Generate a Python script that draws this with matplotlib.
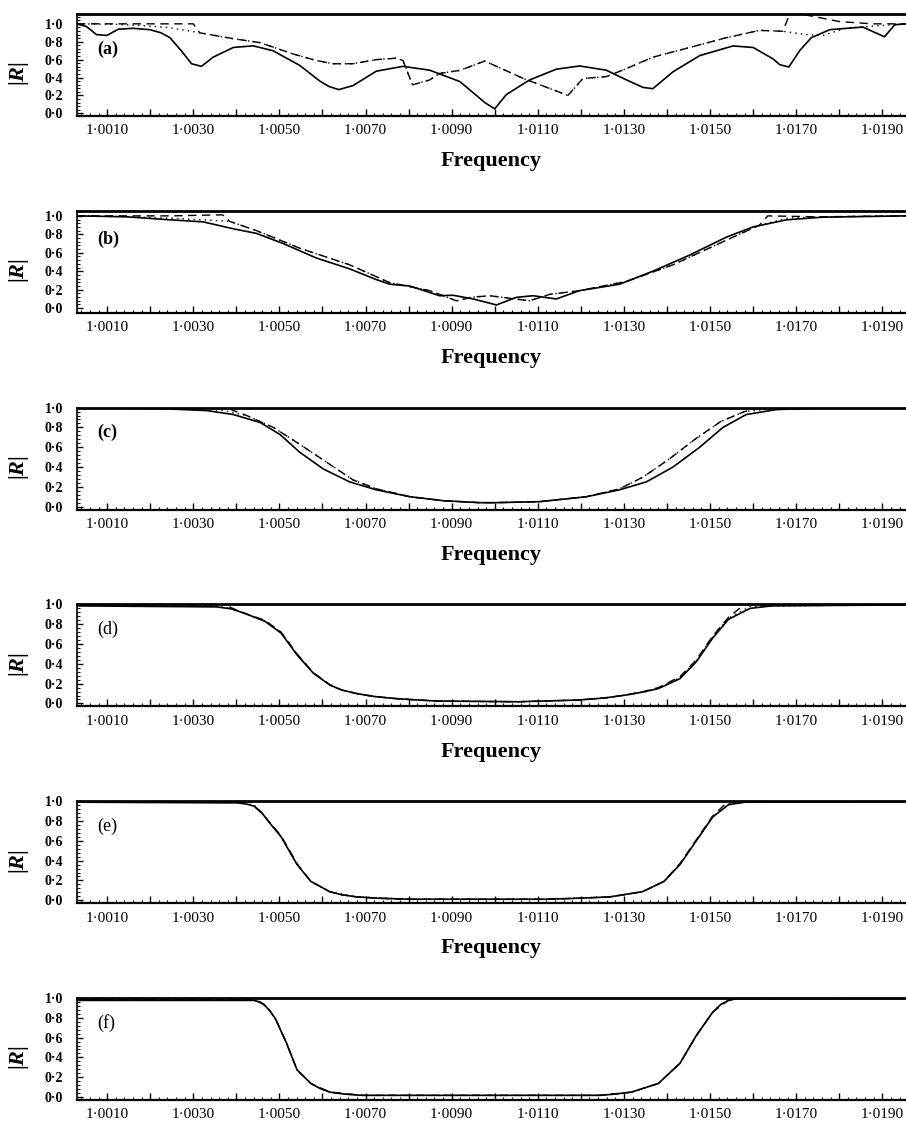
import matplotlib
matplotlib.use("Agg")
import matplotlib.pyplot as plt
from matplotlib.ticker import MultipleLocator, FuncFormatter

plt.rcParams['font.family'] = ['Liberation Serif', 'DejaVu Serif']
plt.rcParams['mathtext.fontset'] = 'custom'
plt.rcParams['mathtext.rm'] = 'Liberation Serif:bold'
plt.rcParams['mathtext.it'] = 'Liberation Serif:italic:bold'

# ---- panel (a) ----
a_solid_f = [1.0003, 1.00052, 1.00075, 1.00099, 1.00126, 1.00160, 1.00199, 1.00225, 1.00246, 1.00272,
             1.00296, 1.00319, 1.00346, 1.00393, 1.00439, 1.00485, 1.00547, 1.00594, 1.00615, 1.00638,
             1.00671, 1.00725, 1.00787, 1.00849, 1.00919, 1.00977, 1.0100, 1.01027, 1.01081, 1.01143,
             1.01197, 1.01259, 1.01306, 1.01344, 1.01367, 1.01414, 1.01476, 1.01553, 1.01600, 1.01646,
             1.01662, 1.01683, 1.01708, 1.01735, 1.01778, 1.01855, 1.01905, 1.01929, 1.01955]
a_solid_r = [1.0, 0.97, 0.88, 0.87, 0.94, 0.95, 0.935, 0.90, 0.845, 0.70,
             0.554, 0.525, 0.627, 0.736, 0.754, 0.70, 0.536, 0.36, 0.30, 0.265,
             0.31, 0.471, 0.525, 0.482, 0.355, 0.12, 0.05, 0.21, 0.373, 0.493,
             0.529, 0.482, 0.373, 0.29, 0.275, 0.464, 0.645, 0.753, 0.736, 0.609,
             0.543, 0.518, 0.70, 0.845, 0.935, 0.964, 0.855, 0.99, 1.0]
a_dash_f = [1.0003, 1.0030, 1.00315, 1.00393, 1.00455, 1.00532, 1.00586, 1.00625, 1.00671, 1.00725,
            1.00771, 1.00787, 1.00809, 1.00849, 1.00872, 1.00919, 1.00977, 1.01066, 1.0117, 1.01205,
            1.01259, 1.01306, 1.01367, 1.01453, 1.01538, 1.01615, 1.01669, 1.01685, 1.01724, 1.01801,
            1.01877, 1.01955]
a_dash_r = [1.0, 1.0, 0.90, 0.834, 0.79, 0.663, 0.59, 0.554, 0.554, 0.60,
            0.616, 0.59, 0.318, 0.373, 0.446, 0.48, 0.584, 0.39, 0.20, 0.39,
            0.41, 0.50, 0.627, 0.736, 0.845, 0.927, 0.917, 1.11, 1.098, 1.025,
            1.0, 1.0]
a_dot_f = [1.0003, 1.0012, 1.0018, 1.0024, 1.0028, 1.00315, 1.00393, 1.00455, 1.00532, 1.00586,
           1.00625, 1.00671, 1.00725, 1.00771, 1.00787, 1.00809, 1.00849, 1.00872, 1.00919, 1.00977,
           1.01066, 1.0117, 1.01205, 1.01259, 1.01306, 1.01367, 1.01453, 1.01538, 1.01615, 1.01669,
           1.01724, 1.01762, 1.01816, 1.01863, 1.01955]
a_dot_r = [1.0, 0.995, 0.98, 0.96, 0.93, 0.90, 0.834, 0.79, 0.663, 0.59,
           0.554, 0.554, 0.60, 0.616, 0.59, 0.318, 0.373, 0.446, 0.48, 0.584,
           0.39, 0.20, 0.39, 0.41, 0.50, 0.627, 0.736, 0.845, 0.927, 0.917,
           0.88, 0.87, 0.953, 0.97, 1.0]

# ---- panel (b) ----
b_solid_f = [1.0003, 1.00145, 1.00238, 1.00323, 1.00393, 1.00447, 1.00509, 1.00586, 1.00663, 1.00725,
             1.00756, 1.00803, 1.00849, 1.00872, 1.00903, 1.0095, 1.01004, 1.0105, 1.01089, 1.01143,
             1.01197, 1.0129, 1.01367, 1.01453, 1.01538, 1.016, 1.01677, 1.01762, 1.01955]
b_solid_r = [1.0, 0.99, 0.96, 0.935, 0.86, 0.81, 0.70, 0.543, 0.426, 0.31,
             0.26, 0.24, 0.17, 0.135, 0.14, 0.10, 0.035, 0.117, 0.135, 0.10,
             0.19, 0.26, 0.40, 0.576, 0.77, 0.88, 0.957, 0.986, 1.0]
b_dash_f = [1.0003, 1.0012, 1.0025, 1.0035, 1.00369, 1.00385, 1.00447, 1.00547, 1.00663, 1.00756,
            1.00849, 1.00911, 1.0095, 1.00988, 1.01081, 1.01128, 1.01197, 1.01306, 1.01414, 1.0153,
            1.01615, 1.01634, 1.0175, 1.01955]
b_dash_r = [1.0, 1.0, 1.0, 1.01, 1.01, 0.94, 0.84, 0.65, 0.47, 0.277,
            0.19, 0.08, 0.12, 0.135, 0.08, 0.15, 0.19, 0.29, 0.47, 0.72,
            0.90, 1.0, 0.99, 1.0]
b_dot_f = [1.0003, 1.0015, 1.0025, 1.0033, 1.00385, 1.00447, 1.00547, 1.00663, 1.00756, 1.00849,
           1.00911, 1.0095, 1.00988, 1.01081, 1.01128, 1.01197, 1.01306, 1.01414, 1.0153, 1.01615,
           1.0168, 1.0176, 1.01955]
b_dot_r = [1.0, 0.99, 0.975, 0.955, 0.94, 0.84, 0.65, 0.47, 0.277, 0.19,
           0.08, 0.12, 0.135, 0.08, 0.15, 0.19, 0.29, 0.47, 0.72, 0.90,
           0.975, 0.99, 1.0]

# ---- panel (c) ----
c_solid_f = [1.0003, 1.00222, 1.00331, 1.00393, 1.00455, 1.00501, 1.00547, 1.00602, 1.00663, 1.00725,
             1.00803, 1.0088, 1.00965, 1.0100, 1.01104, 1.01213, 1.0129, 1.01352, 1.01414, 1.01476,
             1.0153, 1.01584, 1.01654, 1.0175, 1.01955]
c_solid_r = [1.0, 0.99, 0.97, 0.93, 0.85, 0.73, 0.55, 0.38, 0.25, 0.17,
             0.10, 0.06, 0.04, 0.04, 0.05, 0.10, 0.17, 0.25, 0.40, 0.60,
             0.80, 0.93, 0.98, 0.995, 1.0]
c_dash_f = [1.0003, 1.0035, 1.00382, 1.00424, 1.00486, 1.00547, 1.00609, 1.00671, 1.00725, 1.00803,
            1.0088, 1.00965, 1.0100, 1.01104, 1.01213, 1.0129, 1.01345, 1.01405, 1.01465, 1.01525,
            1.0158, 1.0162, 1.01955]
c_dash_r = [1.0, 1.0, 0.99, 0.92, 0.80, 0.63, 0.45, 0.27, 0.18, 0.10,
            0.06, 0.04, 0.04, 0.05, 0.10, 0.18, 0.30, 0.48, 0.68, 0.86,
            0.96, 1.0, 1.0]
c_dot_f = [1.0003, 1.0030, 1.0037, 1.00424, 1.00486, 1.00547, 1.00609, 1.00671, 1.00725, 1.00803,
           1.0088, 1.00965, 1.0100, 1.01104, 1.01213, 1.0129, 1.01345, 1.01405, 1.01465, 1.01525,
           1.0158, 1.0165, 1.01955]
c_dot_r = [1.0, 0.995, 0.97, 0.92, 0.80, 0.63, 0.45, 0.27, 0.18, 0.10,
           0.06, 0.04, 0.04, 0.05, 0.10, 0.18, 0.30, 0.48, 0.68, 0.86,
           0.96, 0.99, 1.0]

# ---- panel (d) ----
d_solid_f = [1.0003, 1.00354, 1.00388, 1.00416, 1.00466, 1.00504, 1.00541, 1.00579, 1.00617, 1.00645,
             1.00679, 1.0072, 1.00767, 1.0082, 1.00867, 1.01055, 1.01192, 1.01255, 1.01305, 1.0135,
             1.0138, 1.0143, 1.01468, 1.01506, 1.01543, 1.01593, 1.01643, 1.01955]
d_solid_r = [0.985, 0.975, 0.955, 0.915, 0.83, 0.71, 0.49, 0.305, 0.186, 0.135,
             0.10, 0.07, 0.05, 0.035, 0.024, 0.017, 0.034, 0.055, 0.085, 0.12,
             0.15, 0.25, 0.42, 0.66, 0.85, 0.96, 0.985, 0.995]
d_dash_f = [1.0003, 1.0037, 1.00416, 1.00466, 1.00504, 1.00541, 1.00579, 1.00617, 1.00645, 1.00679,
            1.0072, 1.00767, 1.0082, 1.00867, 1.01055, 1.01192, 1.01255, 1.01305, 1.0135, 1.0138,
            1.0143, 1.01468, 1.01506, 1.01543, 1.0158, 1.01955]
d_dash_r = [1.0, 1.0, 0.915, 0.84, 0.72, 0.50, 0.31, 0.19, 0.135, 0.10,
            0.07, 0.05, 0.035, 0.024, 0.017, 0.034, 0.055, 0.085, 0.125, 0.16,
            0.27, 0.44, 0.68, 0.87, 1.0, 1.0]
d_dot_f = [1.0003, 1.0035, 1.00388, 1.00416, 1.00466, 1.00504, 1.00541, 1.00579, 1.00617, 1.00645,
           1.00679, 1.0072, 1.00767, 1.0082, 1.00867, 1.01055, 1.01192, 1.01255, 1.01305, 1.0135,
           1.0138, 1.0143, 1.01468, 1.01506, 1.01543, 1.01593, 1.01955]
d_dot_r = [0.99, 0.985, 0.96, 0.915, 0.835, 0.715, 0.495, 0.305, 0.186, 0.135,
           0.10, 0.07, 0.05, 0.035, 0.024, 0.017, 0.034, 0.055, 0.085, 0.12,
           0.155, 0.26, 0.43, 0.67, 0.86, 0.98, 1.0]

# ---- panel (e) ----
e_solid_f = [1.0003, 1.00403, 1.00425, 1.00441, 1.00458, 1.00472, 1.00504, 1.00541, 1.00573, 1.00617,
             1.00645, 1.00679, 1.0073, 1.00804, 1.01117, 1.01195, 1.01268, 1.01343, 1.01393, 1.0143,
             1.01468, 1.01506, 1.01543, 1.01581, 1.01955]
e_solid_r = [0.99, 0.983, 0.97, 0.95, 0.89, 0.81, 0.64, 0.36, 0.19, 0.086,
             0.055, 0.034, 0.02, 0.01, 0.01, 0.02, 0.034, 0.086, 0.19, 0.36,
             0.60, 0.84, 0.965, 0.99, 0.995]
e_dash_f = [1.0003, 1.0043, 1.00465, 1.00504, 1.00541, 1.00573, 1.00617, 1.00645, 1.00679, 1.0073,
            1.00804, 1.01117, 1.01195, 1.01268, 1.01343, 1.01393, 1.0143, 1.01468, 1.01506, 1.01535,
            1.0156, 1.01955]
e_dash_r = [1.0, 1.0, 0.85, 0.65, 0.37, 0.19, 0.086, 0.055, 0.034, 0.02,
            0.01, 0.01, 0.02, 0.034, 0.086, 0.19, 0.37, 0.61, 0.85, 0.97,
            1.0, 1.0]
e_dot_f = [1.0003, 1.0041, 1.00445, 1.00472, 1.00504, 1.00541, 1.00573, 1.00617, 1.00679, 1.00804,
           1.01117, 1.01268, 1.01343, 1.01393, 1.0143, 1.01468, 1.01506, 1.01543, 1.0157, 1.01955]
e_dot_r = [0.995, 0.99, 0.95, 0.81, 0.64, 0.36, 0.19, 0.086, 0.034, 0.01,
           0.01, 0.034, 0.086, 0.19, 0.36, 0.60, 0.84, 0.97, 1.0, 1.0]

# ---- panel (f) ----
f_solid_f = [1.0003, 1.00441, 1.00455, 1.00466, 1.00478, 1.00491, 1.00516, 1.00541, 1.00573, 1.00595,
             1.00617, 1.0065, 1.00692, 1.01243, 1.0128, 1.01318, 1.0138, 1.0143, 1.01468, 1.01506,
             1.01525, 1.01543, 1.01562, 1.01955]
f_solid_r = [0.976, 0.976, 0.96, 0.925, 0.87, 0.788, 0.55, 0.274, 0.137, 0.085,
             0.05, 0.03, 0.017, 0.017, 0.03, 0.05, 0.137, 0.34, 0.62, 0.856,
             0.935, 0.976, 0.993, 0.995]
f_dash_f = [1.0003, 1.0044, 1.00468, 1.00491, 1.00516, 1.00541, 1.00573, 1.00617, 1.00692, 1.01243,
            1.01318, 1.0138, 1.0143, 1.01468, 1.01506, 1.01543, 1.01562, 1.01955]
f_dash_r = [0.98, 0.98, 0.93, 0.79, 0.55, 0.274, 0.137, 0.05, 0.017, 0.017,
            0.05, 0.137, 0.34, 0.62, 0.856, 0.98, 1.0, 1.0]
f_dot_f = f_solid_f
f_dot_r = f_solid_r

panels = [
    ("(a)", a_solid_f, a_solid_r, a_dash_f, a_dash_r, a_dot_f, a_dot_r, (-0.03, 1.11), 0.72, 'bold'),
    ("(b)", b_solid_f, b_solid_r, b_dash_f, b_dash_r, b_dot_f, b_dot_r, (-0.05, 1.055), 0.75, 'bold'),
    ("(c)", c_solid_f, c_solid_r, c_dash_f, c_dash_r, c_dot_f, c_dot_r, (-0.03, 1.0), 0.75, 'bold'),
    ("(d)", d_solid_f, d_solid_r, d_dash_f, d_dash_r, d_dot_f, d_dot_r, (-0.03, 1.0), 0.75, 'normal'),
    ("(e)", e_solid_f, e_solid_r, e_dash_f, e_dash_r, e_dot_f, e_dot_r, (-0.03, 1.0), 0.75, 'normal'),
    ("(f)", f_solid_f, f_solid_r, f_dash_f, f_dash_r, f_dot_f, f_dot_r, (-0.03, 1.0), 0.75, 'normal'),
]


# x 标签只在 1.0010, 1.0030 ... 处显示
def xfmt(v, pos):
    k = int(round((v - 1.0) * 10000))
    if k % 20 == 10:
        return ("%.4f" % v).replace('.', '\u00b7')
    return ''


def yfmt(v, pos):
    if abs(v) < 1e-9:
        v = 0.0
    return ("%.1f" % v).replace('.', '\u00b7')


W, H = 906, 1133
fig = plt.figure(figsize=(W / 100, H / 100), dpi=100)

left_px = 77
ax_h = 102
for k, (lab, sf, sr, df, dr, of, orr, ylim, laby, labw) in enumerate(panels):
    top_px = 14 + k * 196.8
    ax = fig.add_axes([left_px / W, 1 - (top_px + ax_h) / H, (W - left_px) / W, ax_h / H])

    ax.plot(sf, sr, color='black', lw=1.2, solid_joinstyle='round')
    ax.plot(df, dr, color='black', lw=1.0, linestyle=(0, (6, 4)))
    ax.plot(of, orr, color='black', lw=1.0, linestyle=(0, (1, 3)))

    ax.set_xlim(1.0003, 1.01955)
    ax.set_ylim(*ylim)

    ax.xaxis.set_major_locator(MultipleLocator(0.001))
    ax.xaxis.set_minor_locator(MultipleLocator(0.0002))
    ax.xaxis.set_major_formatter(FuncFormatter(xfmt))
    ax.yaxis.set_major_locator(MultipleLocator(0.2))
    ax.yaxis.set_minor_locator(MultipleLocator(0.04))
    ax.yaxis.set_major_formatter(FuncFormatter(yfmt))

    ax.tick_params(axis='both', which='both', direction='in', top=False, right=False)
    ax.tick_params(axis='x', which='major', length=5, width=1.0, labelsize=11, pad=6)
    ax.tick_params(axis='x', which='minor', length=2.5, width=0.8)
    ax.tick_params(axis='y', which='major', length=4, width=1.0, labelsize=10, pad=10)
    ax.tick_params(axis='y', which='minor', length=2.5, width=0.8)
    for t in ax.get_yticklabels():
        t.set_fontweight('bold')

    ax.spines['right'].set_visible(False)
    ax.spines['top'].set_linewidth(2.0)
    ax.spines['bottom'].set_linewidth(1.6)
    ax.spines['left'].set_linewidth(1.2)

    # |R| 纵轴标题
    fig.text(19 / W, 1 - (top_px + 60) / H, r'$|R|$', fontsize=16, rotation=90,
             ha='center', va='center')
    if k < 5:
        ax.set_xlabel('Frequency', fontsize=16, fontweight='bold', labelpad=10)

    # 面板编号 (a) ~ (f)
    ax.text(0.024, laby, lab, transform=ax.get_yaxis_transform(), fontsize=13,
            fontweight=labw, ha='left', va='center')

fig.savefig('out.png', dpi=100)
